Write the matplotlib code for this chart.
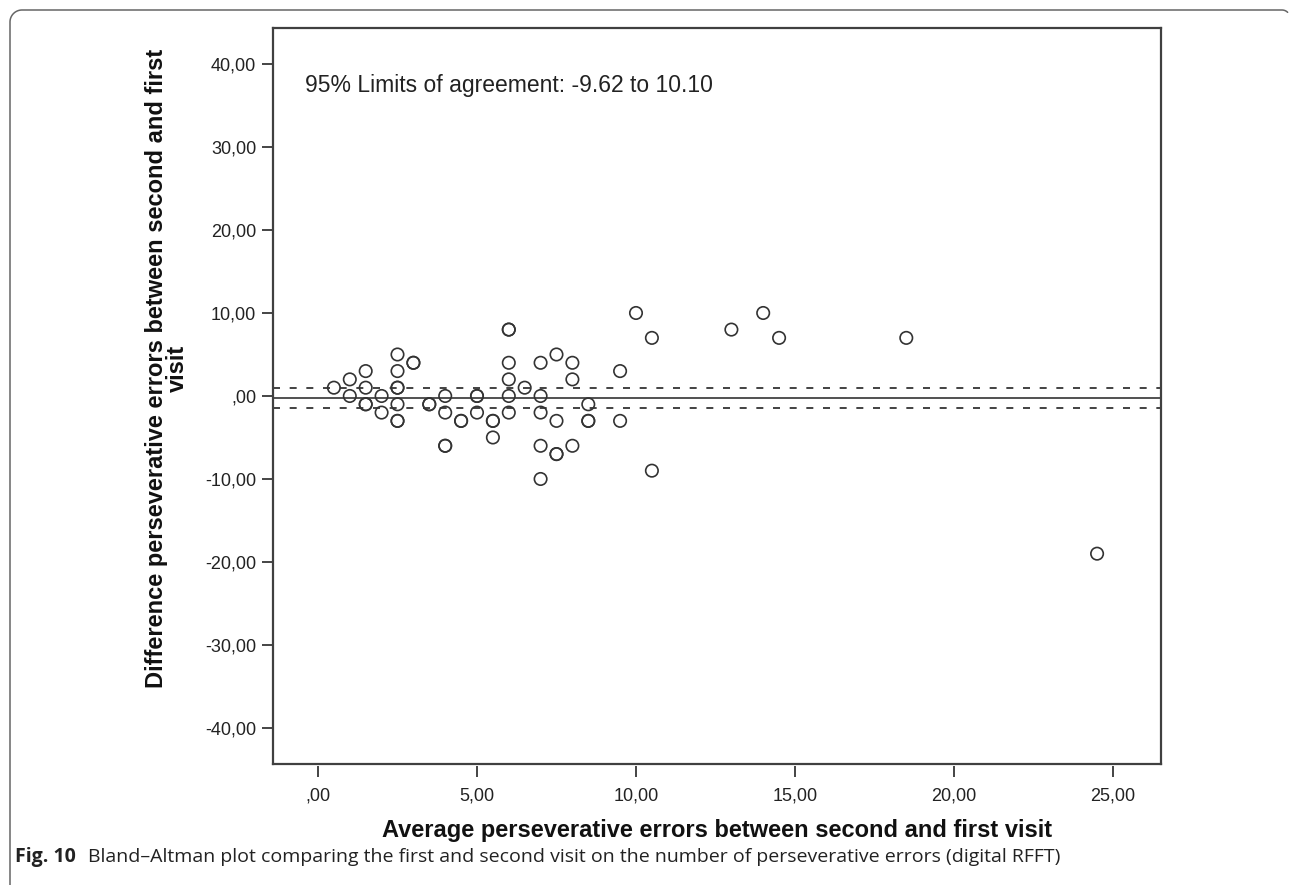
import numpy as np
import matplotlib
matplotlib.use("Agg")
import matplotlib.pyplot as plt
from matplotlib.ticker import FuncFormatter, MultipleLocator

# Average / difference of perseverative errors (overlapping points repeated)
avg_errors = [0.5,
              1.0, 1.0,
              1.5, 1.5, 1.5, 1.5,
              2.0, 2.0,
              2.5, 2.5, 2.5, 2.5, 2.5, 2.5, 2.5,
              3.0, 3.0,
              3.5, 3.5,
              4.0, 4.0, 4.0, 4.0,
              4.5, 4.5,
              5.0, 5.0, 5.0,
              5.5, 5.5, 5.5,
              6.0, 6.0, 6.0, 6.0, 6.0, 6.0,
              6.5,
              7.0, 7.0, 7.0, 7.0, 7.0,
              7.5, 7.5, 7.5, 7.5,
              8.0, 8.0, 8.0,
              8.5, 8.5, 8.5,
              9.5, 9.5,
              10.0,
              10.5, 10.5,
              13.0, 14.0, 14.5, 18.5, 24.5]
diff_errors = [1,
               2, 0,
               3, 1, -1, -1,
               0, -2,
               5, 3, 1, 1, -1, -3, -3,
               4, 4,
               -1, -1,
               0, -2, -6, -6,
               -3, -3,
               0, 0, -2,
               -3, -3, -5,
               8, 8, 4, 2, 0, -2,
               1,
               4, 0, -2, -6, -10,
               5, -3, -7, -7,
               4, 2, -6,
               -1, -3, -3,
               3, -3,
               10,
               7, -9,
               8, 10, 7, 7, -19]

mean_line = -0.3
ci_upper = 0.95
ci_lower = -1.5
loa_text = "95% Limits of agreement: -9.62 to 10.10"

W, H = 1290, 885
plt.rcParams['font.family'] = ['Liberation Sans', 'DejaVu Sans']

fig = plt.figure(figsize=(W / 100, H / 100), dpi=100)


def fx(px):
    return px / W


def fy(py):
    return 1 - py / H


# outer panel border, drawn in pixel coordinates on a background axes
bg = fig.add_axes([0, 0, 1, 1], zorder=-1)
bg.set_xlim(0, W)
bg.set_ylim(H, 0)
bg.axis('off')
r = 12
t = np.linspace(np.pi, 1.5 * np.pi, 20)
border_x = [10, 10] + list(10 + r + r * np.cos(t)) + [1282]
border_y = [885, 10 + r] + list(10 + r + r * np.sin(t)) + [10]
t2 = np.linspace(1.5 * np.pi, 1.75 * np.pi, 8)
border_x += list(1282 + 8 * np.cos(t2))
border_y += list(18 + 8 * np.sin(t2))
bg.plot(border_x, border_y, color='#666666', lw=1.1, solid_capstyle='round')

# plot frame: pixels 273..1161 (x), 28..763 (y)
ax = fig.add_axes([fx(273), fy(763.5), fx(1161) - fx(273), fy(28.3) - fy(763.5)])

ax.scatter(avg_errors, diff_errors, s=80, facecolors='none',
           edgecolors='#333333', linewidths=1.2, zorder=3)

ax.axhline(mean_line, color='#222222', lw=1.1, zorder=2)
ax.axhline(ci_upper, color='#222222', lw=1.2, ls=(0, (4.2, 5.8)), zorder=2)
ax.axhline(ci_lower, color='#222222', lw=1.2, ls=(0, (4.2, 5.8)), zorder=2)

ax.set_xlim(-1.415, 26.51)
ax.set_ylim(-44.28, 44.3)

ax.xaxis.set_major_locator(MultipleLocator(5))
ax.yaxis.set_major_locator(MultipleLocator(10))


def comma_fmt(v, pos):
    s = f"{v:.2f}".replace('.', ',')
    if s in ("0,00", "-0,00"):
        s = ",00"
    return s


ax.xaxis.set_major_formatter(FuncFormatter(comma_fmt))
ax.yaxis.set_major_formatter(FuncFormatter(comma_fmt))

frame_col = '#404040'
for side in ['left', 'right', 'top']:
    ax.spines[side].set_linewidth(1.6)
    ax.spines[side].set_color(frame_col)
ax.spines['bottom'].set_position(('outward', 2))
ax.spines['bottom'].set_color('none')
ax.plot([0, 1], [0, 0], transform=ax.transAxes, color=frame_col, lw=1.6,
        clip_on=False, solid_capstyle='projecting')

ax.tick_params(axis='both', direction='out', length=8, width=1.4,
               color='#444444', labelsize=13, labelcolor='#222222')
ax.tick_params(axis='y', pad=4)
ax.tick_params(axis='x', pad=7)

ax.text(-0.41, 37.35, loa_text, fontsize=16.5, color='#222222',
        ha='left', va='center')

fig.text(fx(717), fy(831), "Average perseverative errors between second and first visit",
         fontsize=17, fontweight='bold', ha='center', va='center', color='#111111')
fig.text(fx(167), fy(368), "Difference perseverative errors between second and first\nvisit",
         fontsize=17, fontweight='bold', ha='center', va='center', rotation=90,
         multialignment='center', linespacing=0.85, color='#111111')

# caption
cap_font = ['Open Sans', 'DejaVu Sans']
fig.text(fx(15), fy(857), "Fig. 10", fontsize=14, fontweight='bold',
         family=cap_font, ha='left', va='center', color='#222222')
fig.text(fx(88), fy(857),
         "Bland\u2013Altman plot comparing the first and second visit on the number of perseverative errors (digital RFFT)",
         fontsize=14, family=cap_font, ha='left', va='center', color='#222222')

fig.savefig("out.png", dpi=100)
